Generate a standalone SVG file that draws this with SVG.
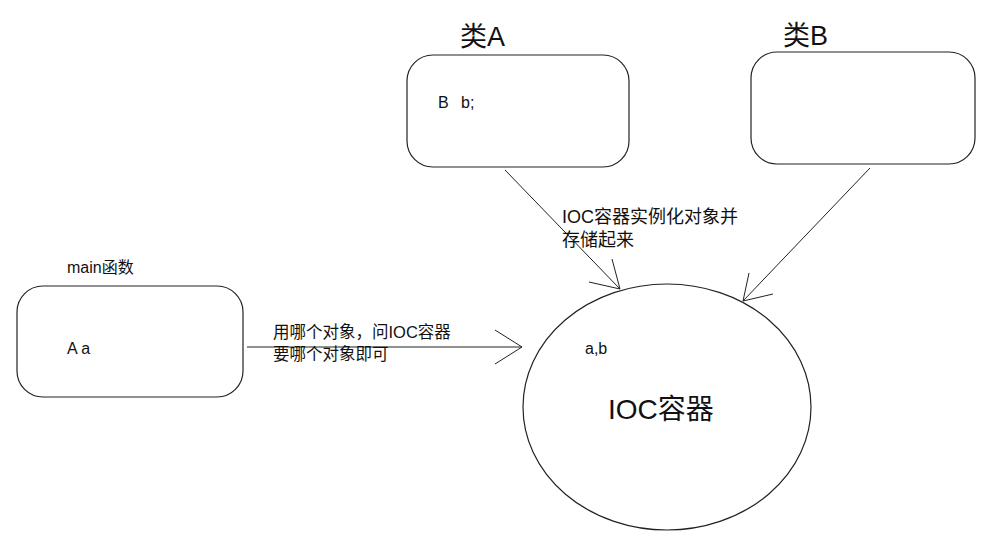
<svg xmlns="http://www.w3.org/2000/svg" width="996" height="541" viewBox="0 0 996 541">
  <style>
    .box { fill: #fff; stroke: #222; stroke-width: 1.2; }
    .edge { fill: none; stroke: #222; stroke-width: 1; }
    .t { font-family: "Liberation Sans", "Noto Sans CJK SC", sans-serif; fill: #111; }
    .s { font-size: 16px; }
    .m { font-size: 16.5px; }
    .l { font-size: 18px; }
    .title { font-size: 27px; }
    .big { font-size: 28px; }
  </style>
  <rect width="996" height="541" fill="#fff"/>

  <g id="classA">
    <text class="t title" x="460" y="46">类A</text>
    <rect class="box" x="407" y="55" width="222" height="112" rx="26"/>
    <text class="t s" x="438" y="108">B</text>
    <text class="t s" x="461" y="108">b;</text>
  </g>

  <g id="classB">
    <text class="t title" x="783" y="45">类B</text>
    <rect class="box" x="751" y="52" width="224" height="112" rx="26"/>
  </g>

  <g id="mainFunc">
    <text class="t s" x="67" y="273">main函数</text>
    <rect class="box" x="17" y="286" width="226" height="111" rx="26"/>
    <text class="t s" x="67" y="354">A a</text>
  </g>

  <g id="iocContainer">
    <ellipse class="box" cx="667" cy="407" rx="144" ry="123"/>
    <text class="t s" x="585" y="354">a,b</text>
    <text class="t big" x="608" y="419">IOC容器</text>
  </g>

  <g id="connectors">
    <!-- 类A to container -->
    <line class="edge" x1="505" y1="170" x2="620" y2="289"/>
    <polyline class="edge" points="612,259 620,289 589,282"/>
    <!-- 类B to container -->
    <line class="edge" x1="870" y1="168" x2="743" y2="301"/>
    <polyline class="edge" points="749,273 743,301 773,294"/>
    <!-- main to container -->
    <line class="edge" x1="247" y1="347" x2="522" y2="347"/>
    <polyline class="edge" points="495,330 522,347 495,364"/>
  </g>

  <g id="labels">
    <text class="t l" x="562" y="223">IOC容器实例化对象并</text>
    <text class="t l" x="562" y="246">存储起来</text>
    <text class="t m" x="273" y="338">用哪个对象，问IOC容器</text>
    <text class="t m" x="273" y="360">要哪个对象即可</text>
  </g>
</svg>
